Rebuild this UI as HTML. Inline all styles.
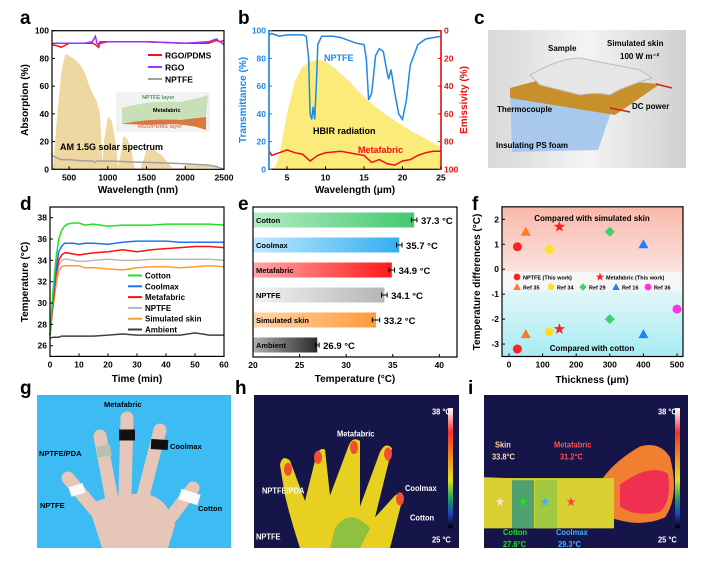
<!DOCTYPE html>
<html><head><meta charset="utf-8"><style>
body{margin:0;background:#fff;}
svg{display:block;font-family:"Liberation Sans",sans-serif;font-weight:bold;}
</style></head><body>
<svg id="fig" width="709" height="571" viewBox="0 0 709 571" xmlns="http://www.w3.org/2000/svg">
<defs>
<linearGradient id="gCot"><stop offset="0" stop-color="#b5ecc4"/><stop offset="1" stop-color="#45c870"/></linearGradient>
<linearGradient id="gCool"><stop offset="0" stop-color="#bfeaff"/><stop offset="1" stop-color="#34aef0"/></linearGradient>
<linearGradient id="gMeta"><stop offset="0" stop-color="#ffa8a8"/><stop offset="1" stop-color="#ff1a1a"/></linearGradient>
<linearGradient id="gNp"><stop offset="0" stop-color="#f4f4f4"/><stop offset="1" stop-color="#b5b5b5"/></linearGradient>
<linearGradient id="gSkin"><stop offset="0" stop-color="#ffd6aa"/><stop offset="1" stop-color="#ff9a3a"/></linearGradient>
<linearGradient id="gAmb"><stop offset="0" stop-color="#b0b0b0"/><stop offset="1" stop-color="#2a2a2a"/></linearGradient>
<linearGradient id="gPink" x1="0" y1="0" x2="0" y2="1"><stop offset="0" stop-color="#f9b8aa"/><stop offset="1" stop-color="#fbe3de"/></linearGradient>
<linearGradient id="gCyan" x1="0" y1="0" x2="0" y2="1"><stop offset="0" stop-color="#e2f6f8"/><stop offset="1" stop-color="#a6ecf2"/></linearGradient>
<linearGradient id="gCbar" x1="0" y1="0" x2="0" y2="1"><stop offset="0" stop-color="#fff"/><stop offset=".2" stop-color="#f03030"/><stop offset=".45" stop-color="#f0a020"/><stop offset=".6" stop-color="#e0e020"/><stop offset=".75" stop-color="#20a060"/><stop offset=".88" stop-color="#2040c0"/><stop offset="1" stop-color="#000"/></linearGradient>
<linearGradient id="gC" x1="0" y1="0" x2="1" y2="0"><stop offset="0" stop-color="#d8d8d8"/><stop offset=".5" stop-color="#f4f4f4"/><stop offset="1" stop-color="#d0d0d0"/></linearGradient>
</defs>
<g id="root"></g>
</svg>
<script>
// ---------- Panel a data ----------
const solarWl=[280,300,350,400,450,500,550,600,650,700,750,800,850,900,930,950,1000,1050,1100,1130,1150,1200,1250,1300,1350,1420,1450,1500,1600,1700,1800,1850,1950,2000,2100,2300,2400,2500];
const solarVal=[0,5,40,70,83,82,80,78,75,70,62,55,50,40,5,20,38,35,20,2,5,24,22,15,0,0,5,14,14,10,3,0,0,3,4,3,2,1];
const lineWl=[280,350,400,500,700,800,840,860,880,900,1000,1500,2000,2300,2400,2450,2500];
const rgoPdms=[90,89,88,91,91,91,90,89,88,91,92,92,91,91,93,92,93];
const rgo=[91,91,91,91,91,92,96,91,90,92,92,92,91,92,94,92,90];
const nptfe=[10,8,7,7,6,6,5,6,6,6,6,5,4,3,2,1,0];
// ---------- Panel b data ----------
const bWl=[2.7,3,4,5,6,7,7.5,7.8,8,8.2,8.4,8.6,8.8,9,9.5,10,11,12,13,14,15,15.3,15.6,16,16.5,17,17.5,18,18.2,18.5,19,19.5,20,20.5,21,22,23,24,25];
const bTrans=[97,98,96,97,97,97,96,80,40,36,45,36,60,90,96,96,96,95,93,91,90,80,50,55,82,87,85,70,65,72,55,40,36,50,75,90,94,95,96];
const hbirWl=[3,3.5,4,5,6,7,8,9,10,11,12,13,14,15,17,19,21,23,25];
const hbirVal=[0,2,10,40,63,74,78,79,78,74,69,64,58,52,43,35,28,22,16];
const emWl=[2.7,3,4,5,6,7,8,8.5,9,10,12,14,15,16,17,18,19,20,21,22,23,24,25];
const emVal=[87,90,88,86,88,89,94,92,90,88,87,89,90,95,93,96,97,94,93,90,88,87,87];
// ---------- Panel d data ----------
const dTime=[0,1,2,3,4,5,6,8,10,12,15,20,25,30,35,40,45,50,55,60];
const dCotton=[27,31,34,36,36.8,37.2,37.4,37.5,37.5,37.3,37.4,37.2,37.3,37.3,37.3,37.4,37.4,37.4,37.4,37.3];
const dCoolmax=[27,30.5,33,34.8,35.3,35.6,35.6,35.6,35.5,35.6,35.6,35.5,35.7,35.8,35.8,35.8,35.7,35.7,35.7,35.7];
const dMeta=[27,30,32.5,34,34.5,34.7,34.7,34.6,34.5,34.6,34.7,34.8,35,34.8,35,35.1,35.2,35.3,35.3,35.2];
const dNptfe=[27,30,32,33.5,34,34.1,34.1,34,33.9,33.9,34,34.1,34,34,34.1,34.1,34.1,34.1,34.1,34];
const dSkin=[27,29.5,31.5,33,33.4,33.5,33.5,33.5,33.5,33.3,33.3,33.2,33.1,33.3,33.4,33.4,33.3,33.4,33.5,33.4];
const dAmb=[26.7,26.8,26.8,26.8,26.9,26.9,26.9,26.9,26.9,26.9,26.9,27,27.1,27,27,27,27,27.2,27,27];
// ---------- Panel e data ----------
const eCats=["Cotton","Coolmax","Metafabric","NPTFE","Simulated skin","Ambient"];
const eVals=[37.3,35.7,34.9,34.1,33.2,26.9];
const eErr=[0.3,0.3,0.3,0.3,0.4,0.2];
// ---------- Panel f data ----------
const fSeries=["NPTFE (This work)","Metafabric (This work)","Ref 35","Ref 34","Ref 29","Ref 16","Ref 36"];
const fX=[[25,25],[150,150],[50,50],[120,120],[300,300],[400,400],[500]];
const fY=[[0.9,-3.2],[1.7,-2.4],[1.5,-2.6],[0.8,-2.5],[1.5,-2],[1,-2.6],[-1.6]];

const NS="http://www.w3.org/2000/svg";
const root=document.getElementById('root');
function mk(tag,attrs,parent,txt){const e=document.createElementNS(NS,tag);for(const k in attrs)e.setAttribute(k,attrs[k]);if(txt!==undefined)e.textContent=txt;(parent||root).appendChild(e);return e;}
function lin(d0,d1,r0,r1){return v=>r0+(v-d0)*(r1-r0)/(d1-d0);}
function pathOf(xs,ys,sx,sy){return xs.map((x,i)=>(i?'L':'M')+sx(x).toFixed(1)+' '+sy(ys[i]).toFixed(1)).join('');}
function label(t,x,y){const e=mk('text',{x:x,y:y,'font-size':19},root,t);}
function txt(s,x,y,size,opts){const a=Object.assign({x:x,y:y,'font-size':size},opts||{});const e=mk('text',a,root,s);return e;}
function frame(x0,y0,x1,y1,name){const e=mk('rect',{x:x0,y:y0,width:x1-x0,height:y1-y0,fill:'none',stroke:'#000','stroke-width':1.2});}
function xTicks(vals,sx,yb,size,col){vals.forEach(v=>{mk('line',{x1:sx(v),x2:sx(v),y1:yb,y2:yb-3,stroke:'#000'});const t=txt(String(v),sx(v),yb+11,size||8.5,{'text-anchor':'middle',fill:col||'#000'});});}
function yTicks(vals,sy,xl,size,col,right){vals.forEach(v=>{mk('line',{x1:xl,x2:xl+(right?-3:3),y1:sy(v),y2:sy(v),stroke:col||'#000'});const t=txt(String(v),right?xl+3:xl-3,sy(v)+3,size||8.5,{'text-anchor':right?'start':'end',fill:col||'#000'});});}

// ================= Panel a =================
label('a',20,24);
{const x0=52,x1=224,y0=30.7,y1=169.3;const sx=lin(280,2500,x0,x1),sy=lin(0,100,y1,y0);
const sp=mk('path',{d:pathOf(solarWl,solarVal,sx,sy)+'Z',fill:'#ecd090',opacity:.85});
const series=[[nptfe,'#a0a0a0','nptfe-line'],[rgoPdms,'#ff1010','rgo-pdms-line'],[rgo,'#9b30ff','rgo-line']];
series.forEach(s=>{const p=mk('path',{d:pathOf(lineWl,s[0],sx,sy),fill:'none',stroke:s[1],'stroke-width':1.5});});
frame(x0,y0,x1,y1,'plot-a-frame');
xTicks([500,1000,1500,2000,2500],sx,y1);yTicks([0,20,40,60,80,100],sy,x0);
txt('Wavelength (nm)',138,193,10,{'text-anchor':'middle'});
txt('Absorption (%)',28,100,10,{'text-anchor':'middle',transform:'rotate(-90 28 100)'});
[['RGO/PDMS','#ff1010',55],['RGO','#9b30ff',67],['NPTFE','#a0a0a0',79]].forEach(l=>{const g=mk('g',{});mk('line',{x1:148,x2:162,y1:l[2],y2:l[2],stroke:l[1],'stroke-width':2},g);mk('text',{x:165,y:l[2]+3.5,'font-size':8.5},g,l[0]);});
txt('AM 1.5G solar spectrum',60,150,9);
const ins=mk('g',{});
mk('rect',{x:116,y:92,width:94,height:40,fill:'#f2f2f2'},ins);
mk('path',{d:'M122 108 Q150 100 180 102 Q200 98 208 95 L206 117 Q185 120 165 122 Q140 120 122 124Z',fill:'#c8e0b8'},ins);
mk('path',{d:'M122 124 Q150 118 180 120 L206 117 L206 130 Q185 122 150 125 Z',fill:'#d87a40'},ins);
mk('text',{x:142,y:99,'font-size':5.5,fill:'#4a9a5a'},ins,'NPTFE layer');
mk('text',{x:153,y:112,'font-size':5.5},ins,'Metafabric');
mk('text',{x:138,y:128,'font-size':5.5,fill:'#e08060'},ins,'RGO/PDMS layer');}

// ================= Panel b =================
label('b',238,24);
{const x0=269,x1=441,y0=30.7,y1=169.3;const sx=lin(2.66,25,x0,x1),sy=lin(0,100,y1,y0),sy2=lin(0,100,y0,y1);
const h=mk('path',{d:pathOf(hbirWl,hbirVal,sx,sy)+'L'+sx(25)+' '+y1+'Z',fill:'#fbeb7a'});
const p=mk('path',{d:pathOf(bWl,bTrans,sx,sy),fill:'none',stroke:'#1e88e5','stroke-width':1.5});
const m=mk('path',{d:pathOf(emWl,emVal,sx,sy2),fill:'none',stroke:'#ee1010','stroke-width':1.5});
mk('rect',{x:x0,y:y0,width:x1-x0,height:y1-y0,fill:'none',stroke:'#000','stroke-width':1.2});
mk('line',{x1:x0,x2:x0,y1:y0,y2:y1,stroke:'#1e88e5','stroke-width':1.5});mk('line',{x1:x1,x2:x1,y1:y0,y2:y1,stroke:'#ee1010','stroke-width':1.5});
xTicks([5,10,15,20,25],sx,y1);yTicks([0,20,40,60,80,100],sy,x0,8.5,'#1e88e5');yTicks([0,20,40,60,80,100],sy2,x1,8.5,'#ee1010',true);
txt('Wavelength (μm)',355,193,10,{'text-anchor':'middle'});
txt('Transmittance (%)',246,100,10,{'text-anchor':'middle',fill:'#1e88e5',transform:'rotate(-90 246 100)'});
txt('Emissivity (%)',467,100,10,{'text-anchor':'middle',fill:'#ee1010',transform:'rotate(-90 467 100)'});
txt('NPTFE',324,61,9,{fill:'#1e88e5'});txt('HBIR radiation',313,134,9);txt('Metafabric',358,153,9,{fill:'#ee1010'});}

// ================= Panel c =================
label('c',474,24);
{const g=mk('g',{});
mk('rect',{x:488,y:30,width:198,height:138,fill:'url(#gC)'},g);
mk('path',{d:'M510 88 L560 78 L630 84 L610 115 L598 150 L512 152 Z',fill:'#a8c8ec'},g);
mk('path',{d:'M510 88 L555 76 L660 84 L615 115 L510 98Z',fill:'#c8902a'},g);
mk('path',{d:'M530 75 Q560 58 580 58 L640 70 L652 78 Q620 88 610 95 Q595 92 580 95 L540 85Z',fill:'#e6e6e6',stroke:'#bbb'},g);
mk('line',{x1:610,y1:108,x2:630,y2:112,stroke:'#d02020','stroke-width':1.5},g);mk('line',{x1:656,y1:84,x2:672,y2:88,stroke:'#d02020','stroke-width':1.5},g);
[['Sample',548,51],['Simulated skin',607,46],['100 W m⁻²',620,59],['Thermocouple',497,112],['DC power',632,109],['Insulating PS foam',496,148]].forEach(t=>{const e=txt(t[0],t[1],t[2],8);});}

// ================= Panel d =================
label('d',20,210);
{const x0=50,x1=224,y0=207,y1=356.4;const sx=lin(0,60,x0,x1),sy=lin(25,39,y1,y0);
const ds=[[dAmb,'#404040','ambient-line'],[dSkin,'#ff9a30','simulated-skin-line'],[dNptfe,'#b8b8b8','nptfe-line'],[dMeta,'#ff1010','metafabric-line'],[dCoolmax,'#1e70ff','coolmax-line'],[dCotton,'#20e020','cotton-line']];
ds.forEach(s=>{const p=mk('path',{d:pathOf(dTime,s[0],sx,sy),fill:'none',stroke:s[1],'stroke-width':1.5});});
frame(x0,y0,x1,y1,'plot-d-frame');
xTicks([0,10,20,30,40,50,60],sx,y1);yTicks([26,28,30,32,34,36,38],sy,x0);
txt('Time (min)',137,382,10,{'text-anchor':'middle'});
txt('Temperature (°C)',28,282,10,{'text-anchor':'middle',transform:'rotate(-90 28 282)'});
[['Cotton','#20e020'],['Coolmax','#1e70ff'],['Metafabric','#ff1010'],['NPTFE','#b8b8b8'],['Simulated skin','#ff9a30'],['Ambient','#404040']].forEach((l,i)=>{const y=275.5+i*10.8;const g=mk('g',{});mk('line',{x1:128,x2:142,y1:y,y2:y,stroke:l[1],'stroke-width':2},g);mk('text',{x:145,y:y+3,'font-size':8},g,l[0]);});}

// ================= Panel e =================
label('e',238,210);
{const x0=253,x1=457,y0=207,y1=357;const sx=lin(20,41.9,x0,x1);const grads=['gCot','gCool','gMeta','gNp','gSkin','gAmb'];
eCats.forEach((c,i)=>{const cy=220+i*25;const r=mk('rect',{x:x0,y:cy-7.5,width:sx(eVals[i])-x0,height:15,fill:'url(#'+grads[i]+')'});
const xe0=sx(eVals[i]-eErr[i]),xe1=sx(eVals[i]+eErr[i]);mk('path',{d:`M${xe0} ${cy}H${xe1}M${xe0} ${cy-2.5}V${cy+2.5}M${xe1} ${cy-2.5}V${cy+2.5}`,stroke:'#000','stroke-width':1,fill:'none'});
const l=txt(c,x0+3,cy+3,7.5);
const v=txt(eVals[i].toFixed(1)+' °C',xe1+4,cy+4,9.5);});
frame(x0,y0,x1,y1,'plot-e-frame');xTicks([20,25,30,35,40],sx,y1);
txt('Temperature (°C)',355,382,10,{'text-anchor':'middle'});}

// ================= Panel f =================
label('f',472,210);
{const x0=502,x1=683,y0=206.8,y1=356.5;const sx=lin(0,500,509,677),sy=lin(0,2,269.2,219.3);
mk('rect',{x:x0,y:y0,width:x1-x0,height:sy(-0.1)-y0,fill:'url(#gPink)'});
mk('rect',{x:x0,y:sy(-0.1),width:x1-x0,height:sy(-0.85)-sy(-0.1),fill:'#f6f6f6'});
mk('rect',{x:x0,y:sy(-0.85),width:x1-x0,height:y1-sy(-0.85),fill:'url(#gCyan)'});
const cols=['#ff2020','#ff2020','#ff7a20','#ffe020','#40d070','#2080ff','#ff30e0'];const shapes=['circle','star','tri','pent','diamond','tri','circle'];
function marker(shape,x,y,c,g){const r=5;if(shape==='circle')return mk('circle',{cx:x,cy:y,r:4.5,fill:c},g);let pts=[];
if(shape==='tri')pts=[[0,-r],[r,r*.8],[-r,r*.8]];else if(shape==='diamond')pts=[[0,-r],[r,0],[0,r],[-r,0]];
else if(shape==='pent'){for(let k=0;k<5;k++){const a=-Math.PI/2+k*2*Math.PI/5;pts.push([r*Math.cos(a),r*Math.sin(a)]);}}
else {for(let k=0;k<10;k++){const a=-Math.PI/2+k*Math.PI/5,rr=k%2?2.4:6;pts.push([rr*Math.cos(a),rr*Math.sin(a)]);}}
return mk('polygon',{points:pts.map(p=>(x+p[0]).toFixed(1)+','+(y+p[1]).toFixed(1)).join(' '),fill:c},g);}
fSeries.forEach((s,i)=>{fX[i].forEach((xv,j)=>{const m=marker(shapes[i],sx(xv),sy(fY[i][j]),cols[i]);});});
const leg=[[0,517,277,'NPTFE (This work)'],[1,600,277,'Metafabric (This work)'],[2,517,287,'Ref 35'],[3,551,287,'Ref 34'],[4,583,287,'Ref 29'],[5,616,287,'Ref 16'],[6,648,287,'Ref 36']];
leg.forEach(l=>{const g=mk('g',{});const m=marker(shapes[l[0]],l[1],l[2],cols[l[0]],g);m.setAttribute('transform',`translate(${l[1]} ${l[2]}) scale(.75) translate(${-l[1]} ${-l[2]})`);mk('text',{x:l[1]+6,y:l[2]+2.5,'font-size':5.5},g,l[3]);});
frame(x0,y0,x1,y1,'plot-f-frame');xTicks([0,100,200,300,400,500],sx,y1);yTicks([-3,-2,-1,0,1,2],sy,x0);
txt('Compared with simulated skin',592,221,8,{'text-anchor':'middle'});txt('Compared with cotton',592,351,8,{'text-anchor':'middle'});
txt('Thickness (μm)',592,383,10,{'text-anchor':'middle'});
txt('Temperature differences (°C)',480,282,10,{'text-anchor':'middle',transform:'rotate(-90 480 282)'});}

// ================= Panel g =================
label('g',20,394);
{const g=mk('g',{});
mk('rect',{x:37,y:395,width:194,height:153,fill:'#3cbcf2'},g);
const sk='#e6c6b8';
[[95,510,68,478],[112,500,100,436],[125,495,127,418],[142,500,160,430],[165,525,193,488]].forEach(f=>mk('line',{x1:f[0],y1:f[1],x2:f[2],y2:f[3],stroke:sk,'stroke-width':13,'stroke-linecap':'round'},g));
mk('path',{d:'M88 505 Q120 490 150 495 Q168 500 175 525 L168 548 L102 548 Q95 525 88 505Z',fill:sk},g);
mk('line',{x1:119,y1:435,x2:135,y2:435,stroke:'#111','stroke-width':11},g);
mk('line',{x1:151,y1:444,x2:168,y2:445,stroke:'#111','stroke-width':10},g);
mk('line',{x1:97,y1:452,x2:111,y2:450,stroke:'#b8c0b0','stroke-width':11},g);
mk('line',{x1:70,y1:492,x2:84,y2:488,stroke:'#fafafa','stroke-width':10},g);
mk('line',{x1:180,y1:494,x2:199,y2:500,stroke:'#fafafa','stroke-width':11},g);
[['Metafabric',104,407],['NPTFE/PDA',39,456],['Coolmax',170,449],['NPTFE',40,508],['Cotton',198,511]].forEach(t=>mk('text',{x:t[1],y:t[2],'font-size':7.5},g,t[0]));}

// ================= Panel h =================
label('h',235,394);
{const g=mk('g',{});
g.setAttribute('transform','translate(0 395) scale(1 1.093) translate(0 -398)');
mk('rect',{x:254,y:398,width:205,height:140,fill:'#15154a'},g);
mk('path',{d:'M300 538 Q290 510 285 490 L280 462 Q282 452 290 458 L305 495 L315 458 Q318 445 325 448 L330 490 L348 446 Q352 435 360 440 L360 500 L380 450 Q386 440 392 447 L375 510 L395 490 Q402 485 402 495 L390 538Z',fill:'#e8d020'},g);
mk('path',{d:'M335 520 Q350 500 370 520 L360 538 L330 538Z',fill:'#90c040'},g);
[[288,466],[318,455],[354,446],[388,452],[400,493]].forEach(p=>mk('ellipse',{cx:p[0],cy:p[1],rx:4,ry:6,fill:'#f05030'},g));
mk('rect',{x:448,y:410,width:5,height:110,fill:'url(#gCbar)'},g);
[['38 °C',432,416],['25 °C',432,533],['Metafabric',337,436],['NPTFE/PDA',262,488],['Coolmax',405,486],['Cotton',410,513],['NPTFE',256,530]].forEach(t=>mk('text',{x:t[1],y:t[2],'font-size':7.5,fill:'#fff'},g,t[0]));}

// ================= Panel i =================
label('i',468,394);
{const g=mk('g',{});
g.setAttribute('transform','translate(0 395) scale(1 1.093) translate(0 -398)');
mk('rect',{x:484,y:398,width:204,height:140,fill:'#15154a'},g);
mk('path',{d:'M484 473 L600 478 Q612 460 640 445 Q660 440 670 455 Q680 490 665 510 Q640 520 610 510 L484 520Z',fill:'#f08030'},g);
mk('rect',{x:484,y:474,width:130,height:46,fill:'#d8d030'},g);
mk('rect',{x:512,y:476,width:22,height:44,fill:'#50a070'},g);mk('rect',{x:535,y:476,width:22,height:44,fill:'#a0c840'},g);
mk('path',{d:'M620 480 Q650 460 668 470 Q672 495 660 505 Q635 510 620 500Z',fill:'#f03050'},g);
[['★',500,499,'#ffe0d0'],['★',523,499,'#20e020'],['★',545,499,'#40b0ff'],['★',571,499,'#ff4040']].forEach(t=>mk('text',{x:t[1],y:t[2],'font-size':10,fill:t[3],'text-anchor':'middle'},g,t[0]));
mk('rect',{x:675,y:410,width:5,height:110,fill:'url(#gCbar)'},g);
[['38 °C',658,416,'#fff'],['25 °C',658,533,'#fff'],['Skin',495,446,'#ffd9b0'],['33.8°C',492,457,'#ffd9b0'],['Metafabric',554,446,'#ff5050'],['31.2°C',560,457,'#ff5050'],['Cotton',503,526,'#20e020'],['27.6°C',503,537,'#20e020'],['Coolmax',556,526,'#40b0ff'],['29.3°C',558,537,'#40b0ff']].forEach(t=>mk('text',{x:t[1],y:t[2],'font-size':7.5,fill:t[3]},g,t[0]));}
</script>
</body></html>
